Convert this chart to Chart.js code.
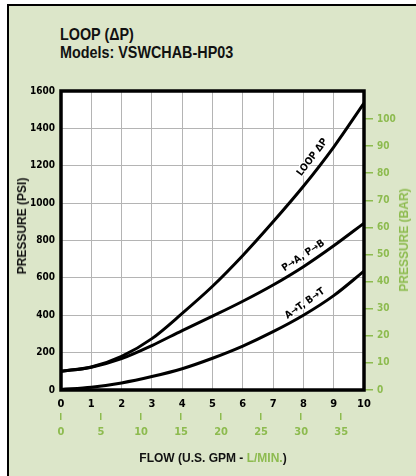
<!DOCTYPE html>
<html>
<head>
<meta charset="utf-8">
<script src="https://cdn.jsdelivr.net/npm/chart.js@4.4.0/dist/chart.umd.min.js"></script>
<style>
  html, body { margin: 0; padding: 0; background: #ffffff; }
  #wrap { position: relative; width: 416px; height: 476px; overflow: hidden; }
  #panel { position: absolute; left: 7px; top: 4px; width: 420px; height: 480px;
           background: #dce6c9; border-top: 2px solid #000; border-left: 2px solid #000; }
  #title { position: absolute; left: 60px; top: 26px; font: bold 17px 'Liberation Sans', Arial, sans-serif;
           line-height: 18px; color: #111; white-space: nowrap; transform: scaleX(0.845); transform-origin: 0 0; }
  canvas { position: absolute; left: 0; top: 0; }
  .rot { position: absolute; transform: translate(-50%, -50%) rotate(-90deg); white-space: nowrap;
         font: bold 12px 'Liberation Sans', Arial, sans-serif; }
  #xtitle { position: absolute; left: 113px; width: 200px; top: 451px; text-align: center; white-space: nowrap;
            font: bold 12px 'Liberation Sans', Arial, sans-serif; line-height: 14px; color: #111; }
  .green { color: #8dbb4f; }
</style>
</head>
<body>
<div id="wrap">
  <div id="panel"></div>
  <div id="title">LOOP (ΔP)<br>Models: VSWCHAB-HP03</div>
  <canvas id="c" width="416" height="476"></canvas>
  <div class="rot" style="left:22px; top:226px; color:#111;">PRESSURE (PSI)</div>
  <div class="rot green" style="left:404px; top:240px;">PRESSURE (BAR)</div>
  <div id="xtitle">FLOW (U.S. GPM - <span class="green">L/MIN.</span>)</div>
</div>
<script>
// ---- data ----
const flowGpm = [0, 1, 2, 3, 4, 5, 6, 7, 8, 9, 10];
const loopPsi = [100, 123, 180, 275, 410, 555, 720, 900, 1090, 1300, 1535];
const pToAPsi = [100, 122, 168, 238, 318, 395, 475, 562, 660, 772, 893];
const aToTPsi = [3, 15, 38, 72, 114, 170, 235, 312, 400, 505, 636];
const seriesNames = ['LOOP ΔP', 'P→A, P→B', 'A→T, B→T'];
const gpmTicks = [0, 1, 2, 3, 4, 5, 6, 7, 8, 9, 10];
const lpmTicks = [0, 5, 10, 15, 20, 25, 30, 35];
const psiTicks = [0, 200, 400, 600, 800, 1000, 1200, 1400, 1600];
const barTicks = [0, 10, 20, 30, 40, 50, 60, 70, 80, 90, 100];
const PSI_PER_BAR = 14.5038;
const LPM_PER_GPM = 3.78541;

// curve label anchors (data coordinates) and rotation
const curveLabels = [
  { text: seriesNames[0], x: 8.3, y: 1245, angle: -53 },
  { text: seriesNames[1], x: 8.0, y: 718, angle: -34 },
  { text: seriesNames[2], x: 8.05, y: 462, angle: -35 }
];

const GREEN = '#8dbb4f';
const NARROW = "'DejaVu Sans Condensed', 'Liberation Sans', sans-serif";

function mk(values) { return flowGpm.map((x, i) => ({ x: x, y: values[i] })); }
function fixTicks(arr) { return function (scale) { scale.ticks = arr.map(v => ({ value: v })); }; }
const plain = v => String(v);

const framePlugin = {
  id: 'frame',
  beforeDraw(chart) {
    const a = chart.chartArea, ctx = chart.ctx;
    ctx.save(); ctx.fillStyle = '#ffffff';
    ctx.fillRect(a.left, a.top, a.right - a.left, a.bottom - a.top);
    ctx.restore();
  },
  afterDatasetsDraw(chart) {
    const a = chart.chartArea, ctx = chart.ctx;
    ctx.save();
    ctx.lineWidth = 3.5; ctx.strokeStyle = '#000';
    ctx.strokeRect(a.left, a.top, a.right - a.left, a.bottom - a.top);
    const xs = chart.scales.x, ys = chart.scales.y;
    ctx.font = 'bold 10px ' + NARROW;
    ctx.textAlign = 'center'; ctx.textBaseline = 'middle';
    curveLabels.forEach(l => {
      ctx.save();
      ctx.translate(xs.getPixelForValue(l.x), ys.getPixelForValue(l.y));
      ctx.rotate(l.angle * Math.PI / 180);
      ctx.lineWidth = 2.5; ctx.strokeStyle = '#fff'; ctx.lineJoin = 'round';
      ctx.strokeText(l.text, 0, 0);
      ctx.fillStyle = '#000';
      ctx.fillText(l.text, 0, 0);
      ctx.restore();
    });
    ctx.restore();
  }
};

const lineStyle = { borderColor: '#000', borderWidth: 3, pointRadius: 0, cubicInterpolationMode: 'monotone', fill: false };

new Chart(document.getElementById('c'), {
  type: 'line',
  data: {
    datasets: [
      Object.assign({ label: seriesNames[0], data: mk(loopPsi) }, lineStyle),
      Object.assign({ label: seriesNames[1], data: mk(pToAPsi) }, lineStyle),
      Object.assign({ label: seriesNames[2], data: mk(aToTPsi) }, lineStyle)
    ]
  },
  options: {
    responsive: false,
    animation: false,
    devicePixelRatio: 1,
    layout: { padding: { top: 91, bottom: 23, left: 0, right: 0 } },
    plugins: { legend: { display: false }, tooltip: { enabled: false }, title: { display: false } },
    scales: {
      x: {
        type: 'linear', position: 'bottom', weight: 0, min: 0, max: 10,
        afterBuildTicks: fixTicks(gpmTicks),
        afterFit(s) { s.height = 23; },
        grid: { color: '#b4b4b4', lineWidth: 1, drawTicks: false },
        border: { display: false },
        ticks: { color: '#000', padding: 8, maxRotation: 0, callback: plain, font: { family: NARROW, size: 11, weight: 'bold' } }
      },
      x2: {
        type: 'linear', position: 'bottom', weight: 1, min: 0, max: 10 * LPM_PER_GPM,
        afterBuildTicks: fixTicks(lpmTicks),
        afterFit(s) { s.height = 40; },
        grid: { drawOnChartArea: false, drawTicks: true, tickLength: 7, color: GREEN, lineWidth: 1.5 },
        border: { display: false },
        ticks: { color: GREEN, padding: 6, maxRotation: 0, callback: plain, font: { family: NARROW, size: 11, weight: 'bold' } }
      },
      y: {
        type: 'linear', position: 'left', min: 0, max: 1600,
        afterBuildTicks: fixTicks(psiTicks),
        afterFit(s) { s.width = 61; },
        grid: { color: '#b4b4b4', lineWidth: 1, drawTicks: false },
        border: { display: false },
        ticks: { color: '#000', padding: 6, callback: plain, font: { family: NARROW, size: 10, weight: 'bold' } }
      },
      y2: {
        type: 'linear', position: 'right', min: 0, max: 1600 / PSI_PER_BAR,
        afterBuildTicks: fixTicks(barTicks),
        afterFit(s) { s.width = 52; },
        grid: { drawOnChartArea: false, drawTicks: true, tickLength: 9, color: GREEN, lineWidth: 1.5 },
        border: { display: false },
        ticks: { color: GREEN, padding: 4, callback: plain, font: { family: NARROW, size: 10, weight: 'bold' } }
      }
    }
  },
  plugins: [framePlugin]
});
</script>
</body>
</html>
